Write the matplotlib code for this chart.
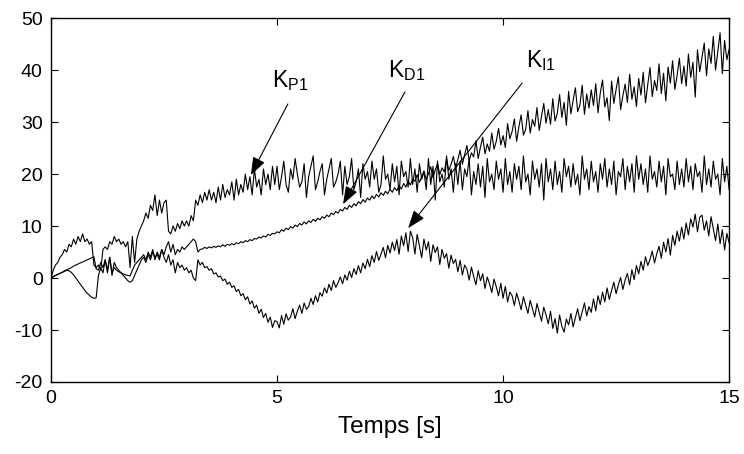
import numpy as np
import matplotlib
matplotlib.use('Agg')
import matplotlib.pyplot as plt

plt.rcParams['font.family'] = ['Liberation Sans', 'DejaVu Sans']
plt.rcParams['mathtext.default'] = 'regular'
plt.rcParams['axes.unicode_minus'] = False

# time axis, 0.05 s sampling
t = np.linspace(0, 15, 301)

# K_P1 gain
kp1 = [
    0, 1.5, 2.5, 3, 4, 4.5, 5.5, 5, 6.5, 6, 7.5, 6.5, 8, 7, 8.5, 7, 7.5, 6.5, 7, 2.5,
    2, 2.5, 1.5, 5.5, 6, 5.5, 7, 6.5, 8, 7, 7.5, 6.5, 7, 6, 7, 2, 8, 3, 7.5, 9,
    10, 11, 12.5, 11.5, 14, 13, 16, 12, 15, 12.5, 14.5, 15, 9, 8.5, 10, 9, 10.5, 9.5, 11, 10,
    11, 10, 12, 11, 15, 14, 16, 14.5, 16.5, 15, 17, 15, 16.5, 14.5, 17.5, 15, 18, 15.5, 17, 16,
    18.5, 15, 19, 16, 18, 16.5, 20, 17, 19.5, 16, 21, 17.5, 19, 16, 21, 18, 20, 17, 21.5, 18,
    21.5, 17, 19.5, 22.5, 18, 16.5, 21, 19, 23, 20, 17.5, 18.5, 22, 15.5, 19.5, 21.5, 23.5, 17, 18.5, 20.5,
    22, 16, 19, 21, 23, 17.5, 18.5, 20, 22.5, 16, 21.5, 18, 19.5, 23, 17, 18.5, 21, 15.5, 22, 19,
    20.5, 17.5, 22.5, 19, 21, 16.5, 18, 23.5, 19, 20, 17, 22, 18.5, 21.5, 16, 22.5, 19.5, 20.5, 17.5, 23,
    18, 21, 16.5, 22, 19, 20.5, 17, 23, 18, 21.5, 15, 22.5, 18.5, 20, 17.5, 23.5, 19, 21, 16.5, 22,
    18, 22.5, 17, 21, 19.5, 23, 16, 20.5, 18, 22, 17.5, 21.5, 15.5, 23, 18.5, 20, 17, 22.5, 19, 21,
    16.5, 23, 18, 20.5, 16.5, 22, 19, 21.5, 17, 23.5, 18.5, 20, 16, 22.5, 19, 21, 17.5, 22, 15, 23,
    18.5, 21, 17, 22.5, 18, 20.5, 16.5, 23, 19.5, 21.5, 17.5, 22, 18, 20, 16, 23.5, 19, 21, 17, 22.5,
    18.5, 20.5, 16.5, 22, 19, 23, 17.5, 21, 18, 22.5, 16, 20.5, 19.5, 23, 17, 21.5, 18.5, 22, 16.5, 23.5,
    19, 22, 18, 21, 16.5, 23.5, 19, 20.5, 17.5, 22.5, 18.5, 21.5, 16, 23, 19.5, 20, 17, 22.5, 18, 21,
    17.5, 23, 18.5, 21.5, 17, 22, 19.5, 20.5, 16.5, 23.5, 18, 21, 17.5, 22.5, 19, 20, 16, 23, 18.5, 21.5,
    17,
]

# K_D1 gain
kd1 = [
    0, 0.2, 0.5, 0.7, 0.9, 1.1, 1.4, 1.6, 1.8, 2.0, 2.3, 2.5, 2.7, 2.9, 3.1, 3.3, 3.5, 3.7, 3.9, 4.1,
    1.8, 1.5, 3, 2, 3.5, 1.5, 4, 1, 2, 1.5, 1.2, 1.0, 0.8, 0.6, 0.5, 0.4, 1.5, 2.5, 3.0, 3.5,
    4, 4.5, 3.5, 5, 4, 5.5, 3.5, 5, 4, 5.5, 4.5, 6, 7, 5, 6.5, 4.5, 5.5, 5, 6, 5.5,
    6, 6.5, 7, 7.5, 7, 5, 5.5, 5.6, 5.9, 5.7, 6.0, 5.8, 6.1, 5.9, 6.2, 6.0, 6.4, 6.1, 6.5, 6.3,
    6.6, 6.4, 6.8, 6.6, 7.0, 6.8, 7.2, 7.0, 7.4, 7.2, 7.6, 7.5, 7.9, 7.7, 8.1, 7.9, 8.4, 8.2, 8.6, 8.5,
    8.9, 8.7, 9.3, 9.0, 9.6, 9.3, 9.9, 9.6, 10.2, 9.9, 10.5, 10.2, 10.8, 10.4, 11.0, 10.7, 11.3, 10.9, 11.5, 11.2,
    11.8, 11.5, 12.1, 11.8, 12.5, 12.2, 12.8, 12.5, 13.2, 12.9, 13.6, 13.2, 14.0, 13.6, 14.3, 13.9, 14.7, 14.3, 15.1, 14.6,
    15.4, 15.0, 15.8, 15.3, 16.1, 15.6, 16.4, 15.9, 16.7, 16.2, 17.1, 16.5, 17.4, 16.8, 17.8, 17.1, 18.2, 17.5, 18.7, 17.9,
    19.0, 18.6, 19.9, 18.4, 19.5, 20.6, 18.9, 20.1, 21.4, 19.3, 20.8, 22.0, 19.9, 21.2, 20.4, 22.9, 20.7, 21.9, 23.4, 21.1,
    22.8, 24.6, 21.9, 23.7, 25.5, 22.6, 24.1, 23.3, 26.4, 23.0, 25.2, 27.1, 23.9, 25.8, 24.4, 27.9, 24.8, 26.3, 28.8, 25.6,
    27.4, 25.1, 29.7, 26.8, 28.2, 30.6, 26.3, 29.1, 31.4, 27.5, 28.6, 32.2, 27.9, 30.5, 29.2, 32.8, 28.4, 31.1, 33.6, 29.8,
    32.4, 29.6, 34.5, 30.2, 31.7, 35.3, 30.9, 33.8, 29.4, 35.9, 31.6, 34.2, 36.6, 32.0, 33.3, 37.1, 31.5, 35.4, 32.7, 36.2,
    33.2, 37.4, 31.8, 35.6, 38.1, 32.9, 34.7, 30.3, 37.9, 33.6, 36.3, 38.7, 32.4, 35.1, 37.3, 33.8, 39.2, 34.4, 36.8, 33.0,
    38.4, 35.2, 39.6, 33.7, 37.2, 40.5, 34.9, 38.0, 36.1, 41.2, 35.5, 39.4, 34.1, 40.6, 37.5, 41.8, 36.3, 39.0, 42.3, 37.4,
    40.8, 36.9, 43.1, 38.6, 41.5, 34.8, 43.9, 39.7, 42.4, 45.2, 38.9, 44.1, 41.3, 46.5, 40.0, 43.6, 47.2, 39.3, 45.7, 42.0,
    44.0,
]

# K_I1 gain
ki1 = [
    0, 0.3, 0.5, 0.7, 0.9, 1.1, 1.3, 1.5, 1.4, 1.1, 0.6, 0.0, -0.6, -1.2, -1.8, -2.4, -2.9, -3.3, -3.7, -3.9,
    -3.8, 0.5, 2, 1, 3.5, 1, 4, 0.5, 3, 2, 1.5, 1.0, 0.5, 0.0, -0.5, -0.8, -0.5, 0.5, 1.5, 2.5,
    3.5, 4, 3, 4.5, 3.5, 5, 4, 4.5, 3.5, 5.5, 4, 3, 4.5, 2.5, 3.5, 1, 3, 2, 2.5, 1.5,
    2, 1, 1.5, 0, -0.5, 3.5, 2.5, 3, 2, 2.2, 1.5, 1.8, 0.8, 1.0, 0.2, 0.4, -0.5, -0.2, -1.2, -0.8,
    -1.8, -1.5, -2.6, -2.2, -3.4, -3.0, -4.2, -3.6, -5.0, -4.4, -5.8, -5.2, -6.8, -6.0, -7.6, -6.8, -8.5, -7.5, -9.5, -8.2,
    -8.4, -9.6, -7.2, -8.9, -6.9, -8.1, -7.5, -5.9, -7.8, -6.4, -5.2, -6.8, -4.8, -6.0, -5.5, -3.9, -5.1, -3.4, -4.6, -2.8,
    -3.5, -1.9, -2.9, -1.2, -2.4, -0.5, -1.8, -0.9, 0.2, -1.1, 0.6, -0.4, 1.3, 0.1, 1.8, 0.7, 2.4, 1.0, 2.9, 1.8,
    3.6, 2.2, 4.3, 3.0, 5.1, 3.4, 4.6, 5.9, 3.9, 6.3, 4.8, 6.9, 5.3, 7.4, 4.6, 8.1, 6.2, 8.7, 5.1, 9.0,
    7.8, 4.6, 8.4, 6.1, 3.9, 7.5, 5.4, 7.0, 3.2, 6.4, 4.9, 6.0, 2.6, 5.5, 3.8, 4.7, 1.9, 4.4, 2.8, 3.6,
    1.2, 3.4, 0.6, 2.5, 1.7, -0.4, 2.1, 0.3, -1.3, 1.4, -0.5, 0.8, -2.0, 0.2, -1.1, -2.8, -0.2, -1.7, -3.4, -1.0,
    -3.9, -1.6, -4.6, -2.7, -3.4, -5.3, -2.9, -4.4, -6.1, -3.6, -5.2, -6.8, -4.3, -5.9, -7.5, -4.9, -6.6, -8.3, -5.6, -7.1,
    -8.8, -6.4, -9.7, -7.8, -10.6, -7.1, -9.3, -10.4, -7.9, -9.0, -6.8, -9.4, -7.6, -5.9, -8.2, -6.5, -4.8, -7.3, -5.5, -6.6,
    -4.0, -6.3, -3.4, -5.1, -2.7, -4.6, -1.9, -4.1, -2.4, -0.8, -3.0, -1.3, 0.1, -2.2, -0.4, 0.9, -1.3, 1.6, -0.3, 2.4,
    0.8, 3.2, 1.5, 4.1, 2.4, 3.6, 5.2, 2.9, 4.7, 6.1, 3.8, 6.9, 5.0, 7.6, 4.4, 8.2, 6.3, 9.0, 7.1, 9.8,
    7.5, 10.6, 8.3, 11.4, 9.8, 12.3, 8.9, 11.7, 12.1, 9.2, 11.0, 8.1, 11.8, 9.5, 7.2, 10.4, 6.6, 9.3, 5.4, 8.6,
    6.8,
]

# annotation label positions and arrow ends (data coords)
labels = ['$K_{P1}$', '$K_{D1}$', '$K_{I1}$']
label_xy = [(4.89, 36.7), (7.46, 38.7), (10.5, 40.6)]
arrow_from = [(5.24, 33.5), (7.83, 35.8), (10.42, 37.5)]
arrow_to = [(4.42, 19.8), (6.46, 14.2), (7.90, 9.6)]

fig = plt.figure(figsize=(7.44, 4.54), dpi=100)
ax = fig.add_axes([0.0685, 0.1586, 0.9115, 0.8014])

ax.plot(t, kp1, color='k', lw=0.8)
ax.plot(t, kd1, color='k', lw=0.8)
ax.plot(t, ki1, color='k', lw=0.8)

for lab, (lx, ly), p0, p1 in zip(labels, label_xy, arrow_from, arrow_to):
    ax.text(lx, ly, lab, fontsize=16.5, ha='left', va='baseline')
    ax.annotate('', xy=p1, xytext=p0,
                arrowprops=dict(arrowstyle='-|>,head_length=1.1,head_width=0.4',
                                color='k', lw=0.8, shrinkA=0, shrinkB=0))

ax.set_xlim(0, 15)
ax.set_ylim(-20, 50)
ax.set_xticks([0, 5, 10, 15])
ax.set_yticks(range(-20, 51, 10))
ax.tick_params(direction='in', top=True, right=True, length=5, labelsize=14, pad=6)
for s in ax.spines.values():
    s.set_linewidth(1.0)
ax.set_xlabel('Temps [s]', fontsize=17.5, labelpad=6)

fig.savefig('out.png', dpi=100)
